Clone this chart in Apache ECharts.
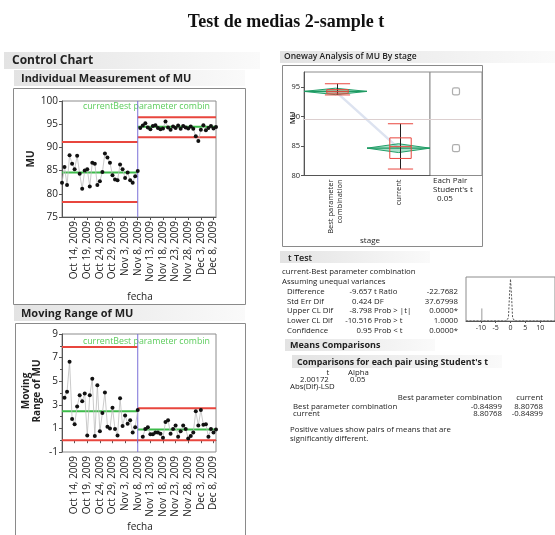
<!DOCTYPE html>
<html>
<head>
<meta charset="utf-8">
<script src="https://cdn.jsdelivr.net/npm/echarts@6/dist/echarts.min.js"></script>
<style>
html,body{margin:0;padding:0;background:#fff}
#chart{width:555px;height:535px}
</style>
</head>
<body>
<div id="chart"></div>
<script>
// datos
var fechaInicio = Date.UTC(2009, 9, 9);
var muActual = [82.4, 85.8, 81.9, 88.3, 86.5, 85.3, 88.2, 84.3, 81.1, 85.0, 85.3, 81.6, 86.7, 86.5, 81.9, 82.7,
	84.7, 88.7, 87.8, 86.7, 84.0, 83.1, 82.9, 86.3, 85.3, 83.4, 84.6, 82.9, 82.4, 83.8, 84.9];
var muMejor = [94.2, 94.7, 95.2, 94.3, 93.9, 94.6, 94.8, 94.2, 93.9, 94.1, 95.6, 94.3, 93.8, 94.5, 94.2, 94.7,
	94.0, 94.6, 94.3, 94.1, 94.5, 94.0, 92.4, 91.4, 93.8, 94.8, 93.7, 94.2, 94.6, 94.1, 94.4];
var mrActual = [3.6, 4.1, 6.65, 1.8, 1.35, 2.85, 3.8, 3.3, 3.95, 0.4, 3.8, 5.2, 0.35, 4.65, 0.75, 2.3, 4.05,
	1.15, 1.0, 2.75, 0.95, 0.4, 3.55, 1.2, 2.1, 1.4, 1.7, 0.65, 1.1, 2.55];
var mrMejor = [0.3, 0.95, 1.1, 0.5, 0.5, 0.65, 0.65, 0.55, 0.2, 1.55, 1.7, 0.55, 0.95, 1.25, 0.3, 0.75, 1.25,
	0.95, 0.15, 0.35, 0.65, 2.45, 1.25, 2.55, 1.3, 1.35, 0.3, 0.95, 0.65, 0.9];
// LCL, promedio, UCL
var limActualInd = [78.25, 84.6, 91.15];
var limMejorInd = [92.2, 94.45, 96.5];
var limActualMR = [0, 2.45, 7.9];
var limMejorMR = [0, 0.9, 2.7];
var fechasEtiqueta = ['Oct 14, 2009', 'Oct 19, 2009', 'Oct 24, 2009', 'Oct 29, 2009', 'Nov 3, 2009', 'Nov 8, 2009',
	'Nov 13, 2009', 'Nov 18, 2009', 'Nov 23, 2009', 'Nov 28, 2009', 'Dec 3, 2009', 'Dec 8, 2009'];

var etapas = ['Best parameter\ncombination', 'current'];
// min, q1, mediana, q3, max
var cajas = [[93.7, 94.0, 94.3, 94.6, 95.6], [81.1, 82.9, 84.9, 86.4, 88.8]];
var medias = [94.3, 84.65];
var icMedias = [[93.75, 94.85], [83.9, 85.4]];
var mediaGlobal = 89.5;

var tCurvaX = [-15, -1.4, -0.7, -0.35, 0, 0.35, 0.7, 1.4, 15];
var tCurvaY = [0, 0, 0.08, 0.6, 1, 0.6, 0.08, 0, 0];
var diferencia = -9.657;

var filasT = [
	['Difference', '-9.657', 't Ratio', '-22.7682'],
	['Std Err Dif', '0.424', 'DF', '37.67998'],
	['Upper CL Dif', '-8.798', 'Prob > |t|', '0.0000*'],
	['Lower CL Dif', '-10.516', 'Prob > t', '1.0000'],
	['Confidence', '0.95', 'Prob < t', '0.0000*']
];
var filasLSD = [
	['Best parameter combination', '-0.84899', '8.80768'],
	['current', '8.80768', '-0.84899']
];

var meses = ['Jan', 'Feb', 'Mar', 'Apr', 'May', 'Jun', 'Jul', 'Aug', 'Sep', 'Oct', 'Nov', 'Dec'];
var fechas = [];
for (var i = 0; i < muActual.length + muMejor.length; i++) {
	var d = new Date(fechaInicio + i * 86400000);
	fechas.push(meses[d.getUTCMonth()] + ' ' + d.getUTCDate() + ', ' + d.getUTCFullYear());
}
var corte = muActual.length - 1;
var ultimo = fechas.length - 1;

var ROJO = '#e8463e', VERDE = '#3dbb4a', AZUL = '#7a70d8', FUENTE = 'Open Sans';

function puntos(valores, desde) {
	return valores.map(function(v, k) { return [desde + k, v]; });
}

function serieDatos(xi, valores, desde) {
	return {
		type: 'line', xAxisIndex: xi, yAxisIndex: xi, data: puntos(valores, desde),
		symbol: 'circle', symbolSize: 4, showAllSymbol: true, itemStyle: {color: '#111'},
		lineStyle: {color: '#bcbcbc', width: 0.8}, z: 5, silent: true
	};
}

function serieLimite(xi, a, b, valor, color) {
	return {
		type: 'line', xAxisIndex: xi, yAxisIndex: xi, data: [[a, valor], [b, valor]],
		symbol: 'none', lineStyle: {color: color, width: 2}, z: 3, silent: true
	};
}

function limites(xi, lim, a, b) {
	return [serieLimite(xi, a, b, lim[0], ROJO), serieLimite(xi, a, b, lim[1], VERDE), serieLimite(xi, a, b, lim[2], ROJO)];
}

function ejeFechas(gi) {
	var esEtiqueta = function(idx) { return fechasEtiqueta.indexOf(fechas[idx]) >= 0; };
	return {
		type: 'category', gridIndex: gi, data: fechas, boundaryGap: false,
		axisLine: {lineStyle: {color: '#555'}},
		axisTick: {interval: esEtiqueta, length: 3, lineStyle: {color: '#555'}},
		axisLabel: {interval: esEtiqueta, rotate: 90, fontSize: 10, color: '#222', margin: 4, fontFamily: FUENTE}
	};
}

function txt(x, y, s, font, align, extra) {
	var el = {type: 'text', x: x, y: y, silent: true,
		style: {text: s, font: font + ' "' + FUENTE + '"', fill: '#222',
			textAlign: align || 'left', textVerticalAlign: 'middle', align: align || 'left', verticalAlign: 'middle'}};
	if (extra) { for (var k in extra) el[k] = extra[k]; }
	return el;
}

function banda(x, y, w, h) {
	return {type: 'rect', silent: true, z: -1, shape: {x: x, y: y, width: w, height: h},
		style: {fill: new echarts.graphic.LinearGradient(0, 0, 1, 0, [
			{offset: 0, color: '#e3e3e3'}, {offset: 1, color: '#fafafa'}])}};
}

function marco(x, y, w, h) {
	return {type: 'rect', silent: true, shape: {x: x, y: y, width: w, height: h},
		style: {fill: 'none', stroke: '#8a8a8a', lineWidth: 1}};
}

function etiquetaFase(y) {
	return {type: 'text', x: 83, y: y, silent: true, style: {text: 'currentBest parameter combin',
		font: '8.8px "' + FUENTE + '"', fill: '#5ccc5c', textVerticalAlign: 'middle', verticalAlign: 'middle'}};
}

var graficos = [
	{type: 'text', x: 286, y: 22, silent: true, style: {text: 'Test de medias 2-sample t', font: 'bold 18px "Liberation Serif"',
		fill: '#111', textAlign: 'center', textVerticalAlign: 'middle', align: 'center', verticalAlign: 'middle'}},
	banda(4, 52, 256, 17), banda(14, 70, 231, 16), banda(14, 305, 231, 16),
	banda(280, 51, 275, 12), banda(280, 251, 150, 12), banda(285, 339, 150, 12), banda(292, 355, 210, 13),
	txt(12, 61, 'Control Chart', 'bold 12px'),
	txt(21, 79, 'Individual Measurement of MU', 'bold 11px'),
	txt(21, 314, 'Moving Range of MU', 'bold 11px'),
	txt(284, 57, 'Oneway Analysis of MU By stage', '600 8.5px'),
	marco(13.5, 88.5, 232, 216), marco(15.5, 323.5, 230, 220), marco(282.5, 65.5, 200, 181),
	etiquetaFase(106), etiquetaFase(341),
	txt(31, 159, 'MU', 'bold 10px', 'center', {rotation: Math.PI / 2}),
	txt(140, 297, 'fecha', '10px', 'center'),
	txt(140, 527, 'fecha', '10px', 'center'),
	{type: 'text', x: 32, y: 391, rotation: Math.PI / 2, silent: true,
		style: {text: 'Moving\nRange of MU', font: 'bold 10px "' + FUENTE + '"', fill: '#222', lineHeight: 11,
			textAlign: 'center', textVerticalAlign: 'middle', align: 'center', verticalAlign: 'middle'}},
	txt(293, 118, 'MU', '600 7.5px', 'center', {rotation: Math.PI / 2}),
	txt(370, 241, 'stage', '8px', 'center'),
	txt(433, 181, 'Each Pair', '8px'),
	txt(433, 190, "Student's t", '8px'),
	txt(437, 199, '0.05', '8px'),
	txt(288, 258, 't Test', '600 9px'),
	txt(282, 272, 'current-Best parameter combination', '7.8px'),
	txt(282, 282, 'Assuming unequal variances', '7.8px'),
	txt(290, 345, 'Means Comparisons', 'bold 9px'),
	txt(297, 362, "Comparisons for each pair using Student's t", 'bold 8.8px'),
	txt(328, 373, 't', '7.8px', 'center'),
	txt(348, 373, 'Alpha', '7.8px'),
	txt(300, 380, '2.00172', '7.8px'),
	txt(350, 380, '0.05', '7.8px'),
	txt(290, 387, 'Abs(Dif)-LSD', '7.8px'),
	txt(502, 398, 'Best parameter combination', '7.8px', 'right'),
	txt(543, 398, 'current', '7.8px', 'right'),
	txt(290, 430, 'Positive values show pairs of means that are', '7.8px'),
	txt(290, 439, 'significantly different.', '7.8px')
];
filasT.forEach(function(f, k) {
	var y = 292 + k * 9.6;
	graficos.push(txt(287, y, f[0], '7.8px'));
	graficos.push(txt(372, y, f[1], '7.8px', 'right'));
	graficos.push(txt(374, y, f[2], '7.8px'));
	graficos.push(txt(458, y, f[3], '7.8px', 'right'));
});
filasLSD.forEach(function(f, k) {
	var y = 406.5 + k * 7.3;
	graficos.push(txt(293, y, f[0], '7.8px'));
	graficos.push(txt(502, y, f[1], '7.8px', 'right'));
	graficos.push(txt(543, y, f[2], '7.8px', 'right'));
});

function dibujarCaja(params, api) {
	var x = api.value(0);
	var pMin = api.coord([x, api.value(1)]), pQ1 = api.coord([x, api.value(2)]);
	var pMed = api.coord([x, api.value(3)]), pQ3 = api.coord([x, api.value(4)]);
	var pMax = api.coord([x, api.value(5)]);
	var ancho = api.size([1, 0])[0];
	var bw = ancho * 0.34, cw = ancho * 0.4, cx = pMed[0] + 2;
	var rojo = {stroke: ROJO, lineWidth: 1, fill: 'none'};
	return {type: 'group', children: [
		{type: 'line', shape: {x1: cx, y1: pMax[1], x2: cx, y2: pMin[1]}, style: {stroke: '#222', lineWidth: 1}},
		{type: 'rect', shape: {x: cx - bw / 2, y: pQ3[1], width: bw, height: pQ1[1] - pQ3[1]}, style: rojo},
		{type: 'line', shape: {x1: cx - bw / 2, y1: pMed[1], x2: cx + bw / 2, y2: pMed[1]}, style: rojo},
		{type: 'line', shape: {x1: cx - cw / 2, y1: pMax[1], x2: cx + cw / 2, y2: pMax[1]}, style: rojo},
		{type: 'line', shape: {x1: cx - cw / 2, y1: pMin[1], x2: cx + cw / 2, y2: pMin[1]}, style: rojo}
	]};
}

function dibujarDiamante(params, api) {
	var x = api.value(0);
	var pm = api.coord([x, api.value(1)]), pl = api.coord([x, api.value(2)]), ph = api.coord([x, api.value(3)]);
	var hw = api.size([1, 0])[0] / 2;
	return {type: 'group', children: [
		{type: 'polygon', shape: {points: [[pm[0] - hw, pm[1]], [pm[0], ph[1]], [pm[0] + hw, pm[1]], [pm[0], pl[1]]]},
			style: {fill: 'rgba(40,175,120,0.4)', stroke: '#22a06a', lineWidth: 1}},
		{type: 'line', shape: {x1: pm[0] - hw, y1: pm[1], x2: pm[0] + hw, y2: pm[1]}, style: {stroke: '#1f9a62', lineWidth: 1.2}}
	]};
}

var grids = [
	{left: 62, top: 101, width: 154, height: 116},
	{left: 62, top: 334, width: 154, height: 118},
	{left: 304, top: 72, width: 126, height: 103.5},
	{left: 430, top: 72, width: 52, height: 103.5},
	{left: 466, top: 277, width: 102, height: 44}
].map(function(g) {
	g.show = true; g.borderColor = '#8c8c8c'; g.borderWidth = 1; g.backgroundColor = '#fff'; g.containLabel = false;
	return g;
});

var ejeY = function(gi, min, max, intervalo, fs) {
	return {
		type: 'value', gridIndex: gi, min: min, max: max, interval: intervalo,
		splitLine: {show: false},
		axisLine: {show: true, lineStyle: {color: '#555'}},
		axisTick: {show: true, length: 3, lineStyle: {color: '#555'}},
		axisLabel: {fontSize: fs, color: '#222', margin: 4, fontFamily: FUENTE,
			showMaxLabel: (max - min) % intervalo === 0, showMinLabel: true}
	};
};

var yMR = ejeY(1, -1, 9, 2, 10);
yMR.minorTick = {show: true, splitNumber: 2, length: 2, lineStyle: {color: '#555'}};

var series = [];
series.push(serieDatos(0, muActual, 0), serieDatos(0, muMejor, corte + 1));
series = series.concat(limites(0, limActualInd, 0, corte), limites(0, limMejorInd, corte, ultimo));
series.push({type: 'line', xAxisIndex: 0, yAxisIndex: 0, data: [[corte, 75], [corte, 100]], symbol: 'none',
	lineStyle: {color: AZUL, width: 1}, z: 4, silent: true});

series.push(serieDatos(1, mrActual, 1), serieDatos(1, mrMejor, corte + 2));
series = series.concat(limites(1, limActualMR, 0, corte), limites(1, limMejorMR, corte, ultimo));
series.push({type: 'line', xAxisIndex: 1, yAxisIndex: 1, data: [[corte, -1], [corte, 9]], symbol: 'none',
	lineStyle: {color: AZUL, width: 1}, z: 4, silent: true});

series.push({type: 'line', xAxisIndex: 2, yAxisIndex: 2, data: medias.map(function(m, k) { return [k, m]; }),
	symbol: 'none', lineStyle: {color: '#dde3f0', width: 2.5}, z: 1, silent: true,
	markLine: {silent: true, symbol: 'none', label: {show: false}, lineStyle: {color: '#dccfcf', type: 'solid', width: 1.2},
		data: [{yAxis: mediaGlobal}]}});
series.push({type: 'custom', xAxisIndex: 2, yAxisIndex: 2, renderItem: dibujarDiamante, z: 3, silent: true,
	encode: {x: 0, y: [1, 2, 3]},
	data: medias.map(function(m, k) { return [k, m, icMedias[k][0], icMedias[k][1]]; })});
series.push({type: 'custom', xAxisIndex: 2, yAxisIndex: 2, renderItem: dibujarCaja, z: 4, silent: true,
	encode: {x: 0, y: [1, 2, 3, 4, 5]},
	data: cajas.map(function(c, k) { return [k].concat(c); })});
series.push({type: 'scatter', xAxisIndex: 3, yAxisIndex: 3, data: medias.map(function(m) { return [0.5, m]; }),
	symbol: 'roundRect', symbolSize: 7, itemStyle: {color: '#fff', borderColor: '#9a9a9a', borderWidth: 1.2}, silent: true,
	markLine: {silent: true, symbol: 'none', label: {show: false}, lineStyle: {color: '#dccfcf', type: 'solid', width: 1.2},
		data: [{yAxis: mediaGlobal}]}});

series.push({type: 'line', xAxisIndex: 4, yAxisIndex: 4, data: tCurvaX.map(function(x, k) { return [x, tCurvaY[k]]; }),
	symbol: 'none', lineStyle: {color: '#555', width: 1, type: [2, 1.5]}, silent: true});
series.push({type: 'line', xAxisIndex: 4, yAxisIndex: 4, data: [[diferencia, 0], [diferencia, 0.3]],
	symbol: 'none', lineStyle: {color: '#999', width: 1}, silent: true});

var option = {
	animation: false,
	backgroundColor: '#fff',
	textStyle: {fontFamily: FUENTE},
	grid: grids,
	xAxis: [
		ejeFechas(0),
		ejeFechas(1),
		{type: 'category', gridIndex: 2, data: etapas, boundaryGap: true,
			axisLine: {lineStyle: {color: '#555'}},
			axisTick: {alignWithLabel: true, length: 3, lineStyle: {color: '#555'}},
			axisLabel: {rotate: 90, fontSize: 7.5, lineHeight: 9, color: '#222', margin: 4, fontFamily: FUENTE}},
		{type: 'value', gridIndex: 3, min: 0, max: 1, show: false},
		{type: 'value', gridIndex: 4, min: -15, max: 15, interval: 5,
			splitLine: {show: false},
			axisLine: {lineStyle: {color: '#555'}},
			axisTick: {length: 2, lineStyle: {color: '#555'}},
			axisLabel: {fontSize: 7, color: '#222', margin: 3, showMinLabel: false, showMaxLabel: false, fontFamily: FUENTE}}
	],
	yAxis: [
		ejeY(0, 75, 100, 5, 10),
		yMR,
		ejeY(2, 80, 97.6, 5, 7.5),
		{type: 'value', gridIndex: 3, min: 80, max: 97.6, show: false},
		{type: 'value', gridIndex: 4, min: 0, max: 1.05, show: false}
	],
	graphic: graficos,
	series: series
};

var grafico = echarts.init(document.getElementById('chart'));
grafico.setOption(option);
</script>
</body>
</html>
